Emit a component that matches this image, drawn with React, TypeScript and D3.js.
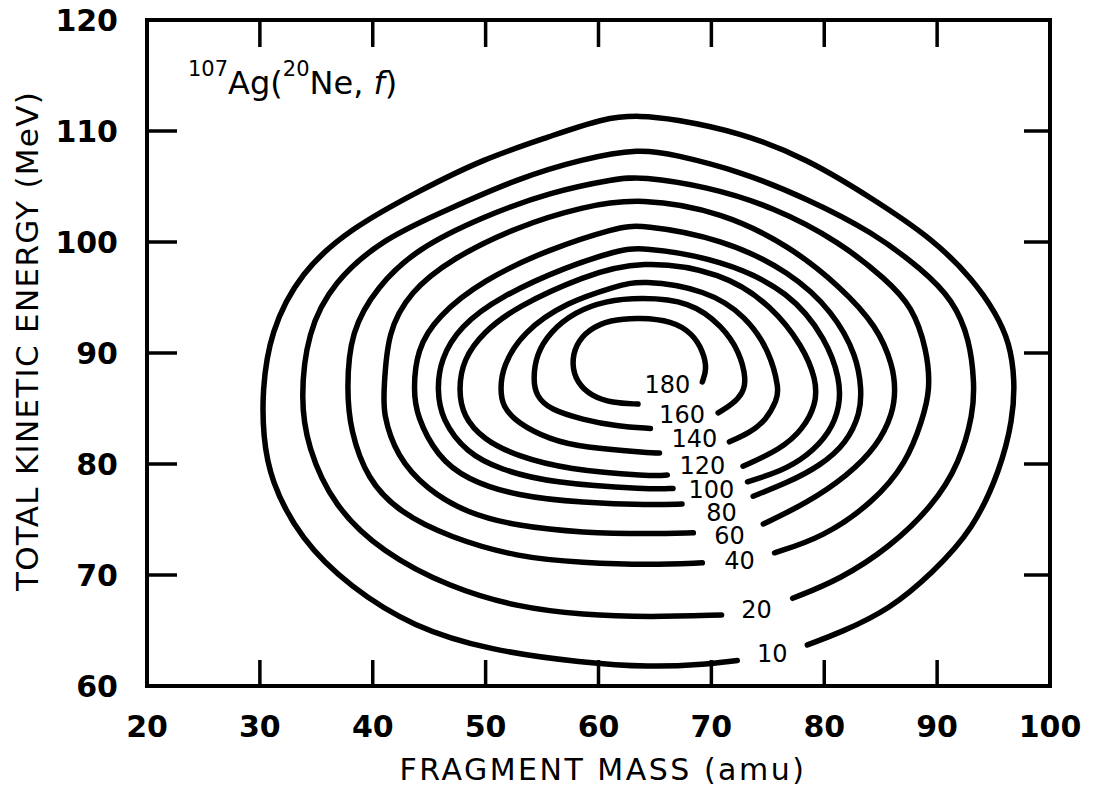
import React from 'react';
import * as d3 from 'd3';

const X_TICKS = [20, 30, 40, 50, 60, 70, 80, 90, 100];
const Y_TICKS = [60, 70, 80, 90, 100, 110, 120];
const LEVELS = [10, 20, 40, 60, 80, 100, 120, 140, 160, 180];

// Each contour: open path starting at the right side of its label gap,
// running over the top and round the left, ending at the left side of the gap.
const c10 = [[78.5,63.7],[81.4,64.8],[85.8,66.9],[89.6,70.2],[93.2,74.1],[95.6,79.5],[96.7,84.0],[96.9,87.6],[96.4,91.0],[95.2,93.6],[93.2,96.6],[89.6,100.3],[84.3,103.9],[78.5,107.5],[72.5,109.9],[66.6,111.1],[63.7,111.4],[60.5,111.2],[55.7,109.5],[49.8,107.5],[43.9,104.5],[38.0,101.2],[33.6,97.3],[30.9,91.9],[30.2,86.5],[30.3,82.5],[30.9,78.6],[33.6,73.2],[38.0,68.9],[43.6,65.3],[50.4,63.2],[58.6,62.1],[64.6,61.7],[69.0,61.9],[72.3,62.3]];
const c20 = [[77.2,67.9],[81.4,69.6],[85.8,72.5],[89.6,76.2],[92.0,80.1],[93.2,84.6],[93.3,87.2],[92.9,91.2],[91.4,94.8],[88.7,97.5],[84.3,100.9],[78.5,103.9],[72.5,106.4],[66.6,107.9],[63.7,108.4],[58.6,107.5],[52.8,105.7],[46.8,103.0],[40.9,100.3],[36.5,96.4],[34.2,91.9],[33.6,85.8],[34.2,81.6],[36.5,76.2],[40.9,72.0],[46.8,68.9],[52.8,67.1],[58.6,66.4],[64.6,66.2],[70.9,66.4]];
const c40 = [[75.6,72.0],[79.9,73.4],[84.3,76.5],[87.3,80.1],[88.7,84.0],[89.4,86.7],[89.1,90.3],[87.8,94.2],[85.5,96.6],[81.4,100.0],[75.4,103.2],[69.6,105.0],[63.7,105.9],[61.6,105.7],[55.7,104.5],[49.8,102.3],[43.9,99.4],[40.4,96.0],[38.0,91.9],[37.7,86.7],[38.0,83.1],[39.5,78.6],[42.4,75.6],[46.8,73.4],[52.8,71.6],[58.6,71.1],[64.6,70.9],[69.2,71.1]];
const c60 = [[74.6,74.6],[78.5,76.5],[82.0,78.9],[84.7,81.6],[86.1,84.6],[86.3,86.7],[86.1,88.8],[84.7,92.4],[81.4,96.0],[77.0,99.6],[71.0,102.7],[63.7,104.0],[58.6,103.2],[52.8,101.4],[46.8,98.4],[43.3,95.5],[41.3,91.9],[41.0,86.7],[40.9,84.6],[42.1,80.7],[44.8,77.7],[48.3,75.6],[52.8,74.4],[58.6,73.8],[64.6,73.7],[68.4,73.8]];
const c80 = [[73.7,77.1],[76.7,78.3],[79.6,79.8],[82.0,81.9],[83.2,84.6],[83.3,86.7],[82.9,89.7],[80.8,93.7],[77.0,97.3],[71.0,100.3],[63.7,101.6],[61.6,101.3],[55.7,99.4],[49.8,96.6],[45.7,93.3],[43.9,90.3],[43.6,86.7],[43.9,84.3],[45.7,80.7],[48.3,78.6],[52.8,77.1],[58.6,76.5],[64.6,76.3],[67.4,76.4]];
const c100 = [[73.2,78.4],[76.1,79.3],[78.5,80.7],[80.5,82.8],[81.4,85.2],[81.4,87.6],[80.2,91.2],[77.0,95.5],[71.0,98.4],[63.7,99.6],[61.6,99.2],[57.2,97.8],[51.3,95.1],[47.7,92.4],[46.0,89.4],[45.7,86.7],[46.1,84.0],[48.3,81.0],[51.3,79.5],[55.7,78.3],[64.6,77.7],[66.6,77.8]];
const c120 = [[72.8,79.8],[76.1,81.3],[78.1,83.1],[79.3,85.4],[79.3,87.6],[78.1,90.6],[75.4,94.2],[71.0,97.3],[63.7,98.4],[58.6,96.9],[52.8,94.2],[49.8,91.9],[48.0,89.4],[47.6,86.7],[48.0,84.3],[49.8,82.2],[52.8,80.7],[57.2,79.5],[64.6,78.9],[66.1,79.0]];
const c140 = [[71.6,82.0],[73.4,82.8],[74.9,84.0],[75.8,85.8],[76.0,86.7],[75.2,90.1],[73.1,93.3],[69.6,95.7],[63.7,96.6],[61.6,96.0],[57.2,94.6],[53.3,91.9],[51.5,88.8],[51.3,86.7],[51.5,85.2],[52.8,83.7],[55.7,82.2],[58.6,81.5],[64.6,81.0],[65.4,81.0]];
const c160 = [[70.6,84.6],[71.9,85.4],[72.8,86.4],[73.1,87.6],[72.5,90.1],[71.0,92.4],[68.1,94.7],[63.7,95.0],[60.6,94.7],[57.9,93.7],[55.7,91.9],[54.5,89.9],[54.2,87.6],[54.5,86.1],[55.7,84.9],[58.6,84.0],[61.6,83.4],[64.6,83.2]];
const c180 = [[69.2,87.4],[69.6,88.5],[69.3,90.1],[68.3,91.8],[66.5,92.9],[63.7,93.2],[61.0,93.0],[59.1,92.1],[58.0,90.8],[57.6,89.0],[58.1,87.3],[59.4,86.1],[61.2,85.5],[63.5,85.4]];
const CONTOURS = [c10, c20, c40, c60, c80, c100, c120, c140, c160, c180];

// label anchor of each level, in (mass, MeV)
const LABEL_MASS = [75.4, 74.0, 72.5, 71.6, 70.9, 70.0, 69.2, 68.5, 67.4, 66.1];
const LABEL_TKE = [62.9, 66.9, 71.3, 73.6, 75.6, 77.7, 79.9, 82.3, 84.5, 87.2];

const X_TITLE = 'FRAGMENT MASS (amu)';
const Y_TITLE = 'TOTAL KINETIC ENERGY (MeV)';

const FONT = '"DejaVu Sans", "Liberation Sans", sans-serif';

export default function App() {
  const x = d3.scaleLinear().domain([20, 100]).range([147, 1050]);
  const y = d3.scaleLinear().domain([60, 120]).range([686, 20]);
  const line = d3
    .line<number[]>()
    .x((d) => x(d[0]))
    .y((d) => y(d[1]))
    .curve(d3.curveBasis);

  const [x0, x1] = x.range();
  const [yb, yt] = y.range();
  const innerX = X_TICKS.slice(1, -1);
  const innerY = Y_TICKS.slice(1, -1);

  return (
    <svg
      width={1094}
      height={788}
      style={{ position: 'absolute', left: 0, top: 0, background: '#fff' }}
      fontFamily={FONT}
    >
      <rect x={0} y={0} width={1094} height={788} fill="#fff" />
      {/* contours */}
      <g fill="none" stroke="#000" strokeWidth={5.5} strokeLinecap="round" strokeLinejoin="round">
        {CONTOURS.map((c, i) => (
          <path key={LEVELS[i]} d={line(c) || ''} />
        ))}
      </g>
      {/* contour labels */}
      <g fontSize={24} textAnchor="middle" fill="#000">
        {LEVELS.map((lv, i) => (
          <text key={lv} x={x(LABEL_MASS[i])} y={y(LABEL_TKE[i])} dy="0.36em">
            {lv}
          </text>
        ))}
      </g>
      {/* frame */}
      <rect
        x={x0}
        y={yt}
        width={x1 - x0}
        height={yb - yt}
        fill="none"
        stroke="#000"
        strokeWidth={4}
      />
      {/* ticks */}
      <g stroke="#000" strokeWidth={3.5}>
        {innerX.map((t) => (
          <g key={'x' + t}>
            <line x1={x(t)} x2={x(t)} y1={yb} y2={yb - 26} />
            <line x1={x(t)} x2={x(t)} y1={yt} y2={yt + 27} />
          </g>
        ))}
        {innerY.map((t) => (
          <g key={'y' + t}>
            <line x1={x0} x2={x0 + 30} y1={y(t)} y2={y(t)} />
            <line x1={x1} x2={x1 - 26} y1={y(t)} y2={y(t)} />
          </g>
        ))}
      </g>
      {/* tick labels */}
      <g fontSize={30} fontWeight="bold" fill="#000">
        {X_TICKS.map((t) => (
          <text key={'xl' + t} x={x(t)} y={737} textAnchor="middle">
            {t}
          </text>
        ))}
        {Y_TICKS.map((t) => (
          <text key={'yl' + t} x={118} y={y(t) + 11} textAnchor="end">
            {t}
          </text>
        ))}
      </g>
      {/* axis titles */}
      <text x={603} y={780} fontSize={30} textAnchor="middle" letterSpacing={2.5} fill="#000">
        {X_TITLE}
      </text>
      <text
        transform="translate(38,341) rotate(-90)"
        fontSize={31}
        textAnchor="middle"
        letterSpacing={1.3}
        fill="#000"
      >
        {Y_TITLE}
      </text>
      {/* reaction annotation */}
      <text x={188} y={94} fontSize={32} fill="#000">
        <tspan fontSize={21} dy={-18}>107</tspan>
        <tspan dy={18}>Ag(</tspan>
        <tspan fontSize={21} dy={-18}>20</tspan>
        <tspan dy={18}>Ne, </tspan>
        <tspan fontStyle="italic">f</tspan>
        <tspan>)</tspan>
      </text>
    </svg>
  );
}
